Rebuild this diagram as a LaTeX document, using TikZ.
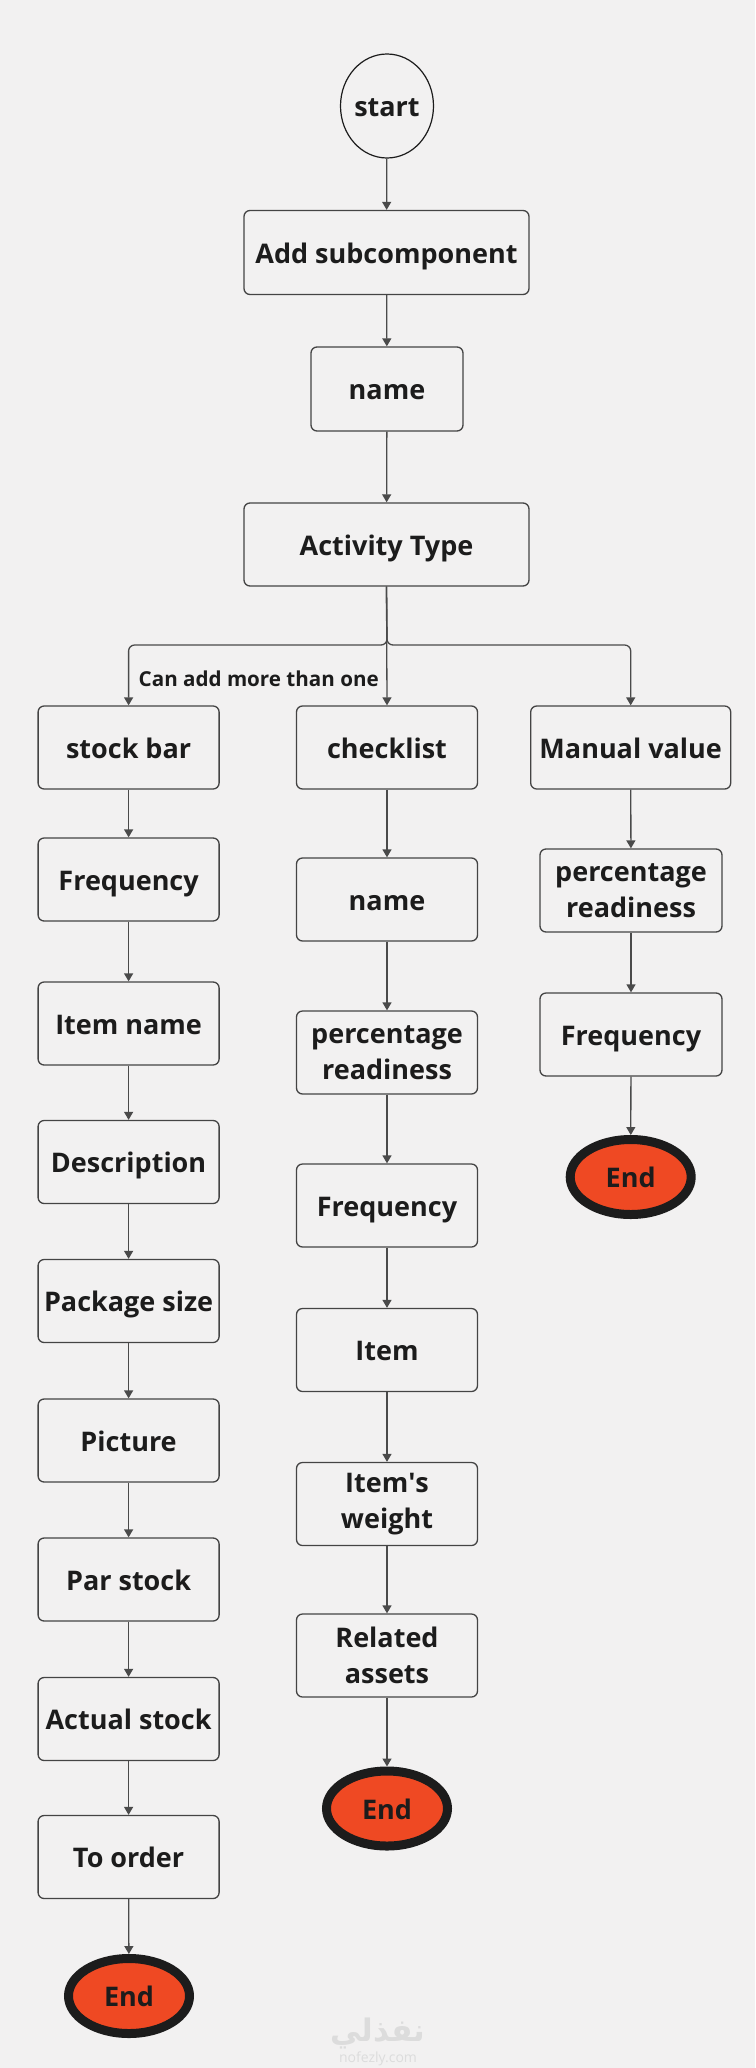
\documentclass[tikz,border=0pt]{standalone}
\usepackage{fontspec}
\setmainfont{Open Sans}
\newfontfamily\arabicfont[Script=Arabic]{DejaVu Sans}
\TeXXeTstate=1
\usetikzlibrary{arrows.meta,shapes.geometric}
\definecolor{bg}{HTML}{F2F1F1}
\definecolor{ink}{HTML}{1C1C1C}
\definecolor{boxline}{HTML}{444444}
\definecolor{arrowc}{HTML}{4A4A4A}
\definecolor{endred}{HTML}{EF4923}
\definecolor{wmark}{HTML}{DCDCDC}
\tikzset{
  box/.style={draw=boxline, line width=1.3pt, rounded corners=6pt, fill=bg,
    minimum width=181pt, minimum height=83pt, inner sep=0pt, align=center,
    font=\bfseries\fontsize{27}{36}\selectfont, text=ink},
  onebox/.style={box, text height=24pt, text depth=3pt},
  endnode/.style={ellipse, draw=ink, line width=9pt, fill=endred,
    minimum width=121pt, minimum height=75pt, inner sep=0pt,
    font=\bfseries\fontsize{27}{36}\selectfont, text=ink,
    text height=24pt, text depth=3pt},
  startnode/.style={ellipse, draw=ink, line width=1.2pt, fill=bg,
    minimum width=93pt, minimum height=104pt, inner sep=0pt,
    font=\bfseries\fontsize{27}{36}\selectfont, text=ink,
    text height=24pt, text depth=3pt},
  arr/.style={draw=arrowc, line width=1.3pt, -{Triangle[length=8pt,width=9pt]}},
  lbl/.style={font=\bfseries\fontsize{20.6}{24}\selectfont, text=ink, inner sep=0pt}
}
\begin{document}
\begin{tikzpicture}[x=1pt,y=-1pt]
\fill[bg] (0,0) rectangle (755,2068);
\useasboundingbox (0,0) rectangle (755,2068);

% top
\node[startnode] (start) at (387,106) {start};
\node[onebox, minimum width=285pt, minimum height=84pt] (add) at (386.5,252.5) {Add subcomponent};
\node[onebox, minimum width=152pt, minimum height=84pt] (name1) at (387,389) {name};
\node[onebox, minimum width=285pt] (act) at (386.5,544.5) {Activity Type};

% left column
\node[onebox] (stock) at (128.6,747.5) {stock bar};
\node[onebox] (freq1) at (128.6,879.5) {Frequency};
\node[onebox] (itemname) at (128.6,1023.5) {Item name};
\node[onebox] (desc) at (128.6,1162) {Description};
\node[onebox] (pkg) at (128.6,1301) {Package size};
\node[onebox] (pic) at (128.6,1440.5) {Picture};
\node[onebox] (par) at (128.6,1579.5) {Par stock};
\node[onebox] (actual) at (128.6,1719) {Actual stock};
\node[onebox] (toorder) at (128.6,1857) {To order};
\node[endnode] (end1) at (129,1996) {End};

% middle column
\node[onebox] (check) at (387,747.5) {checklist};
\node[onebox] (name2) at (387,899.5) {name};
\node[box] (pct2) at (387,1052.5) {percentage\\readiness};
\node[onebox] (freq2) at (387,1205.5) {Frequency};
\node[onebox] (item) at (387,1350) {Item};
\node[box] (weight) at (387,1504) {Item\textquotesingle s\\weight};
\node[box] (related) at (387,1655.5) {Related\\assets};
\node[endnode] (end2) at (387,1808.5) {End};

% right column
\node[onebox, minimum width=200pt] (manual) at (630.7,747.5) {Manual value};
\node[box, minimum width=182pt] (pct3) at (631,890.5) {percentage\\readiness};
\node[onebox, minimum width=182pt] (freq3) at (631,1034.5) {Frequency};
\node[endnode] (end3) at (630.7,1177) {End};

% label
\node[lbl, anchor=west] (note) at (138.5,679) {Can add more than one};

% connectors top
\draw[arr] (start) -- (add);
\draw[arr] (add) -- (name1);
\draw[arr] (name1) -- (act);

% split
\coordinate (split) at (387,645);
\draw[arr] (act.south) -- (check.north);
\draw[arr, rounded corners=6pt] (act.south) -- (split) -| (stock.north);
\draw[arr, rounded corners=6pt] (act.south) -- (split) -| (manual.north);

% left chain
\draw[arr] (stock) -- (freq1);
\draw[arr] (freq1) -- (itemname);
\draw[arr] (itemname) -- (desc);
\draw[arr] (desc) -- (pkg);
\draw[arr] (pkg) -- (pic);
\draw[arr] (pic) -- (par);
\draw[arr] (par) -- (actual);
\draw[arr] (actual) -- (toorder);
\draw[arr] (toorder) -- (end1);

% middle chain
\draw[arr] (check) -- (name2);
\draw[arr] (name2) -- (pct2);
\draw[arr] (pct2) -- (freq2);
\draw[arr] (freq2) -- (item);
\draw[arr] (item) -- (weight);
\draw[arr] (weight) -- (related);
\draw[arr] (related) -- (end2);

% right chain
\draw[arr] (manual) -- (pct3);
\draw[arr] (pct3) -- (freq3);
\draw[arr] (freq3) -- (end3);

% watermark
\node[text=wmark, inner sep=0pt, font=\arabicfont\bfseries\fontsize{31}{33}\selectfont] (wm1) at (378,2033) {\beginR نفذلي\endR};
\node[text=wmark, inner sep=0pt, font=\fontsize{14}{16}\selectfont] (wm2) at (378,2059) {nofezly.com};
\end{tikzpicture}
\end{document}
